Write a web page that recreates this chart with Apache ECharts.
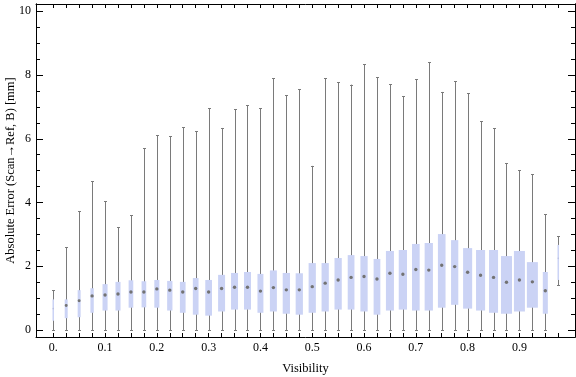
<!DOCTYPE html>
<html>
<head>
<meta charset="utf-8">
<script src="https://cdn.jsdelivr.net/npm/echarts@6/dist/echarts.min.js"></script>
<style>
html,body{margin:0;padding:0;background:#fff;}
#c{width:576px;height:377px;}
</style>
</head>
<body>
<div id="c"></div>
<script>
// ---- data ----
var visibility = [0, 0.025, 0.05, 0.075, 0.1, 0.125, 0.15, 0.175, 0.2, 0.225,
  0.25, 0.275, 0.3, 0.325, 0.35, 0.375, 0.4, 0.425, 0.45, 0.475,
  0.5, 0.525, 0.55, 0.575, 0.6, 0.625, 0.65, 0.675, 0.7, 0.725,
  0.75, 0.775, 0.8, 0.825, 0.85, 0.875, 0.9, 0.925, 0.95, 0.975];
var whiskerLow = [0, 0, 0, 0, 0, 0, 0, 0, 0, 0,
  0, 0, 0, 0, 0, 0, 0, 0, 0, 0,
  0, 0, 0, 0, 0, 0, 0, 0, 0, 0,
  0, 0, 0, 0, 0, 0, 0, 0, 0, 1.40];
var quartile1 = [0.29, 0.37, 0.40, 0.54, 0.61, 0.61, 0.70, 0.71, 0.70, 0.61,
  0.54, 0.48, 0.45, 0.58, 0.64, 0.64, 0.54, 0.58, 0.51, 0.48,
  0.54, 0.58, 0.64, 0.64, 0.58, 0.48, 0.61, 0.64, 0.61, 0.61,
  0.70, 0.79, 0.67, 0.61, 0.54, 0.51, 0.58, 0.70, 0.51, 1.57];
var median = [0.67, 0.77, 0.92, 1.07, 1.10, 1.13, 1.19, 1.19, 1.29, 1.25,
  1.19, 1.30, 1.19, 1.30, 1.34, 1.34, 1.22, 1.33, 1.26, 1.26,
  1.36, 1.47, 1.57, 1.65, 1.68, 1.60, 1.78, 1.75, 1.90, 1.88,
  2.03, 1.99, 1.81, 1.72, 1.65, 1.50, 1.57, 1.51, 1.23, 2.25];
var quartile3 = [0.96, 0.96, 1.25, 1.31, 1.44, 1.51, 1.56, 1.53, 1.57, 1.54,
  1.51, 1.63, 1.57, 1.73, 1.79, 1.82, 1.76, 1.87, 1.79, 1.78,
  2.10, 2.10, 2.26, 2.35, 2.32, 2.23, 2.48, 2.51, 2.70, 2.73,
  3.01, 2.82, 2.57, 2.51, 2.51, 2.32, 2.48, 2.13, 1.82, 2.67];
var whiskerHigh = [1.25, 2.59, 3.73, 4.67, 4.04, 3.22, 3.60, 5.71, 6.11, 6.08,
  6.36, 6.23, 6.96, 6.34, 6.92, 7.05, 6.96, 7.90, 7.36, 7.55,
  5.15, 7.90, 7.78, 7.70, 8.34, 7.93, 7.71, 7.33, 7.87, 8.40,
  7.47, 7.80, 7.43, 6.55, 6.33, 5.23, 5.01, 4.89, 3.63, 2.94];
// relative box width (fraction of the 0.025 bin)
var widthFrac = [0.12, 0.23, 0.23, 0.26, 0.39, 0.39, 0.36, 0.36, 0.39, 0.41,
  0.44, 0.44, 0.52, 0.54, 0.54, 0.54, 0.46, 0.54, 0.56, 0.56,
  0.56, 0.56, 0.56, 0.52, 0.56, 0.52, 0.62, 0.64, 0.59, 0.64,
  0.59, 0.56, 0.70, 0.70, 0.70, 0.85, 0.85, 0.85, 0.39, 0.12];
var binWidth = 0.025;
var xLabelValues = [0, 0.1, 0.2, 0.3, 0.4, 0.5, 0.6, 0.7, 0.8, 0.9];
var xLabelTexts = ["0.", "0.1", "0.2", "0.3", "0.4", "0.5", "0.6", "0.7", "0.8", "0.9"];
var yMajorValues = [0, 2, 4, 6, 8, 10];
var yMinorValues = [0.5, 1, 1.5, 2.5, 3, 3.5, 4.5, 5, 5.5, 6.5, 7, 7.5, 8.5, 9, 9.5];

var boxData = visibility.map(function (v, i) {
  return [v, whiskerLow[i], quartile1[i], median[i], quartile3[i], whiskerHigh[i], widthFrac[i]];
});

var FONT = '"Liberation Serif", "DejaVu Serif", serif';
var XMIN = -0.0333, XMAX = 1.0073, YMIN = -0.22, YMAX = 10.23;

function xAx(pos, labels) {
  return {
    type: 'value', position: pos, min: XMIN, max: XMAX,
    axisLine: {show: true, onZero: false, lineStyle: {color: '#000', width: 1}},
    axisTick: {show: true, inside: true, length: 4, customValues: visibility, lineStyle: {color: '#000'}},
    axisLabel: labels ? {show: true, customValues: xLabelValues, color: '#000', fontFamily: FONT, fontSize: 12, margin: 5,
      formatter: function (v) { var k = xLabelValues.indexOf(v); return k >= 0 ? xLabelTexts[k] : ''; }} : {show: false},
    splitLine: {show: false}
  };
}
function yAx(pos, major, labels) {
  var o = {
    type: 'value', position: pos, min: YMIN, max: YMAX,
    axisLine: {show: true, onZero: false, lineStyle: {color: '#000', width: 1}},
    axisTick: {show: true, inside: true, length: major ? 7 : 4, customValues: major ? yMajorValues : yMinorValues, lineStyle: {color: '#000'}},
    axisLabel: labels ? {show: true, customValues: yMajorValues, color: '#000', fontFamily: FONT, fontSize: 12, margin: 5} : {show: false},
    splitLine: {show: false}
  };
  return o;
}

var xa0 = xAx('bottom', true);
xa0.name = 'Visibility';
xa0.nameLocation = 'middle';
xa0.nameGap = 25;
xa0.nameMoveOverlap = false;
xa0.nameTextStyle = {color: '#000', fontFamily: FONT, fontSize: 12.5};
var ya0 = yAx('left', true, true);
ya0.name = 'Absolute Error (Scan\u2192Ref, B) [mm]';
ya0.nameLocation = 'middle';
ya0.nameGap = 19;
ya0.nameMoveOverlap = false;
ya0.nameTextStyle = {color: '#000', fontFamily: FONT, fontSize: 12.5};

var chart = echarts.init(document.getElementById('c'), null, {renderer: 'canvas'});
chart.setOption({
  animation: false,
  backgroundColor: '#fff',
  grid: {left: 36, top: 4, width: 539, height: 333, containLabel: false, outerBoundsMode: 'none'},
  xAxis: [xa0, xAx('top', false)],
  yAxis: [ya0, yAx('left', false, false), yAx('right', true, false), yAx('right', false, false)],
  series: [{
    type: 'custom',
    xAxisIndex: 0, yAxisIndex: 0,
    data: boxData,
    clip: false,
    renderItem: function (params, api) {
      var x = api.value(0);
      var pLo = api.coord([x, api.value(1)]);
      var pQ1 = api.coord([x, api.value(2)]);
      var pMed = api.coord([x, api.value(3)]);
      var pQ3 = api.coord([x, api.value(4)]);
      var pHi = api.coord([x, api.value(5)]);
      var w = api.size([binWidth * api.value(6), 0])[0];
      var cx = Math.round(pLo[0]) + 0.5;
      var grey = '#7a7a7a';
      var lineStyle = {stroke: grey, lineWidth: 1};
      var r = Math.min(1.7, w / 2);
      return {
        type: 'group',
        children: [
          {type: 'line', shape: {x1: cx, y1: pLo[1], x2: cx, y2: pHi[1]}, style: lineStyle},
          {type: 'line', shape: {x1: cx - 1.5, y1: Math.round(pLo[1]) + 0.5, x2: cx + 1.5, y2: Math.round(pLo[1]) + 0.5}, style: lineStyle},
          {type: 'line', shape: {x1: cx - 1.5, y1: Math.round(pHi[1]) + 0.5, x2: cx + 1.5, y2: Math.round(pHi[1]) + 0.5}, style: lineStyle},
          {type: 'rect', shape: {x: pQ1[0] - w / 2, y: pQ3[1], width: w, height: pQ1[1] - pQ3[1]}, style: {fill: '#cbd3f5'}},
          {type: 'circle', shape: {cx: pMed[0], cy: pMed[1], r: r}, style: {fill: w < 2 ? '#b8bfe0' : '#737373'}}
        ]
      };
    }
  }]
});
</script>
</body>
</html>
